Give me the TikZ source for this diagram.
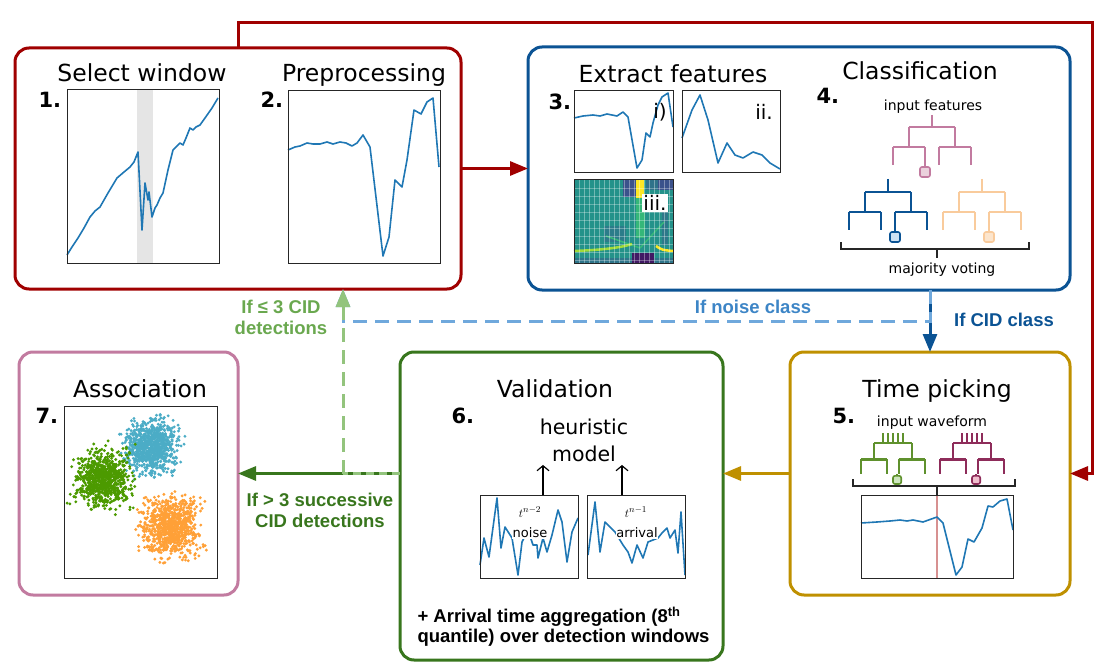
\documentclass[tikz,border=0pt]{standalone}
\usepackage{fontspec}
\setmainfont{DejaVu Sans}
\newfontfamily\lab{Liberation Sans}
\usepackage{xcolor}
\usepackage{tikz}
\usetikzlibrary{arrows.meta,positioning,calc}

\definecolor{cRed}{RGB}{160,0,0}
\definecolor{cBlue}{RGB}{11,83,148}
\definecolor{cLBlue}{RGB}{111,168,220}
\definecolor{cNoise}{RGB}{61,133,198}
\definecolor{cGreen}{RGB}{56,118,29}
\definecolor{cLGreen}{RGB}{147,196,125}
\definecolor{cFewT}{RGB}{106,168,79}
\definecolor{cGold}{RGB}{191,144,0}
\definecolor{cPink}{RGB}{194,123,160}
\definecolor{cPinkL}{RGB}{234,209,220}
\definecolor{cTreeB}{RGB}{11,83,148}
\definecolor{cTreeBL}{RGB}{207,226,243}
\definecolor{cTreeO}{RGB}{249,203,156}
\definecolor{cTreeOL}{RGB}{252,229,205}
\definecolor{cTPg}{RGB}{95,145,45}
\definecolor{cTPgL}{RGB}{205,230,190}
\definecolor{cTPm}{RGB}{142,44,90}
\definecolor{cTPmL}{RGB}{240,190,205}
\definecolor{cSig}{RGB}{31,119,180}
\definecolor{cPickLine}{RGB}{215,145,145}
\definecolor{cClG}{RGB}{76,154,0}
\definecolor{cClB}{RGB}{75,172,198}
\definecolor{cClO}{RGB}{255,160,55}
\definecolor{cV0}{RGB}{68,1,84}
\definecolor{cV1}{RGB}{59,82,139}
\definecolor{cV2}{RGB}{36,146,138}
\definecolor{cV3}{RGB}{53,183,121}
\definecolor{cV4}{RGB}{160,218,57}
\definecolor{cV5}{RGB}{253,231,37}

\tikzset{
  pics/dtree/.style n args={4}{code={
    \draw[#1, line width=#4] (-23,0) -- (23,0)
      (-23,0) -- (-23,20) (23,0) -- (23,20)
      (-39,20) -- (-7,20) (7,20) -- (39,20)
      (-39,20) -- (-39,38) (-7,20) -- (-7,38) (7,20) -- (7,38) (39,20) -- (39,38)
      (#3,38) -- (#3,40);
    \draw[#1, fill=#2, line width=1.6pt, rounded corners=2pt] (#3-5,40) rectangle (#3+5,50);
  }},
}

\begin{document}
\begin{tikzpicture}[x=1pt, y=-1pt,
    stage/.style={draw, line width=3pt, rounded corners=14pt, inner sep=0pt, outer sep=0pt},
    ttl/.style={anchor=base, font=\fontsize{23.5}{28}\selectfont},
    num/.style={anchor=base west, font=\bfseries\fontsize{21}{24}\selectfont},
    small/.style={anchor=base, font=\fontsize{14}{17}\selectfont},
    lbl/.style={font=\lab\bfseries\fontsize{18.5}{21}\selectfont, align=center},
    frame/.style={draw=black!85, line width=1pt},
    sig/.style={cSig, line width=1.6pt, line join=round},
    flow/.style={line width=3pt, -{Triangle[length=18pt,width=14pt]}},
    dashflow/.style={line width=3pt, dash pattern=on 14pt off 8pt},
    tip/.style={-{Triangle[length=18pt,width=14pt]}},
    bracket/.style={line width=1.5pt, black!85}]
    \useasboundingbox (0,0) rectangle (1106,666);

    % Stage boxes
    \node[stage, draw=cRed, minimum width=446pt, minimum height=241pt] (sel) at (238,168.5) {};
    \node[stage, draw=cBlue, minimum width=542pt, minimum height=243pt] (feat) at (799,168.5) {};
    \node[stage, draw=cPink, minimum width=219pt, minimum height=243pt] (assoc) at (128.5,473.5) {};
    \node[stage, draw=cGreen, minimum width=323pt, minimum height=308pt] (valid) at (561.5,506) {};
    \node[stage, draw=cGold, minimum width=280pt, minimum height=243pt] (pick) at (930,473.5) {};

    % 1. Select window
    \node[ttl] (tsel) at (142,82) {Select window};
    \node[num] (n1) at (35,108) {1.};
    \fill[black!10] (137,90) rectangle (153,263);
    \draw[sig] plot coordinates {(67,255) (72,247) (78,238) (84,228) (90,217) (95,211)
      (100,207) (108,193) (117,178) (124,172) (130,167) (134,162) (138,152) (142,230)
      (145,183) (148,200) (149,192) (152,217) (155,208) (157,205) (160,198) (163,193)
      (168,170) (173,150) (176,147) (180,143) (183,145) (186,138) (190,128) (193,130)
      (196,127) (200,125) (205,118) (212,108) (218,98)};
    \draw[frame] (67,90) rectangle (219,263);

    % 2. Preprocessing
    \node[ttl] (tpre) at (364,82) {Preprocessing};
    \node[num] (n2) at (257,108) {2.};
    \draw[sig] plot coordinates {(288,150) (295,147) (300,146) (307,143) (313,144)
      (320,144) (327,142) (333,144) (340,142) (346,143) (352,146) (357,143) (363,135)
      (370,147) (383,256) (389,237) (395,180) (402,187) (407,160) (414,110) (421,114)
      (427,102) (433,98) (439,167)};
    \draw[frame] (288,91) rectangle (440,263);

    % 3. Extract features
    \node[ttl] (tfeat) at (673,83) {Extract features};
    \node[num] (n3) at (545,110) {3.};
    \draw[sig] plot coordinates {(574,118) (583,116) (593,115) (600,116) (607,114)
      (617,116) (623,112) (628,117) (637,168) (642,160) (646,133) (650,137) (653,123)
      (658,105) (662,97) (668,93) (673,127)};
    \draw[frame] (574,91) rectangle (673,173);
    \node[font=\fontsize{20}{24}\selectfont] (li) at (660,112) {i)};
    \draw[sig] plot coordinates {(682,138) (692,110) (700,95) (708,120) (718,163)
      (727,143) (735,155) (743,158) (753,152) (762,155) (770,163) (780,169)};
    \draw[frame] (682,91) rectangle (780,173);
    \node[font=\fontsize{20}{24}\selectfont] (lii) at (764,112) {ii.};

    % spectrogram
    \fill[cV2] (574,180) rectangle (673,263);
    \fill[cV1] (623,180) rectangle (636,197);
    \fill[cV1] (658,180) rectangle (673,190);
    \fill[cV1!50!cV2] (646,180) rectangle (658,190);
    \fill[cV5] (636,180) rectangle (644,198);
    \fill[cV3] (636,198) rectangle (645,238);
    \fill[cV1!40!cV2] (662,212) rectangle (668,245);
    \fill[cV1!35!cV2] (604,226) rectangle (626,242);
    \fill[cV1!45!cV2] (574,258) rectangle (673,263);
    \fill[cV0!70!cV1] (632,253) rectangle (654,263);
    \draw[cV3, line width=1.5pt] (640,248) -- (606,236) (640,248) -- (664,222);
    \draw[cV4, line width=2.5pt] (574,251) .. controls (600,250) and (620,248) .. (632,244);
    \draw[cV5, line width=2.5pt] (656,246) .. controls (662,250) .. (673,251);
    \foreach \gx in {579,584,...,669}
      \draw[white, opacity=.35, line width=.6pt] (\gx,180) -- (\gx,263);
    \foreach \gy in {188,196,...,260}
      \draw[white, opacity=.3, line width=.6pt] (574,\gy) -- (673,\gy);
    \draw[frame] (574,180) rectangle (673,263);
    \node[fill=white, inner sep=1pt, font=\fontsize{20}{24}\selectfont] (liii) at (655,203) {iii.};

    % 4. Classification
    \node[ttl] (tcls) at (920,80) {Classification};
    \node[num] (n4) at (813,104) {4.};
    \node[small] (infeat) at (933,111) {input features};
    \draw[cPink, line width=2.6pt] (932,115) -- (932,127);
    \pic at (932,127) {dtree={cPink}{cPinkL}{-7}{2.6pt}};
    \draw[cTreeB, line width=2.6pt] (888,179) -- (888,192);
    \pic at (888,192) {dtree={cTreeB}{cTreeBL}{7}{2.6pt}};
    \draw[cTreeO, line width=2.6pt] (982,179) -- (982,192);
    \pic at (982,192) {dtree={cTreeO}{cTreeOL}{7}{2.6pt}};
    \draw[bracket] (841,242) -- (841,249) -- (1029,249) -- (1029,242) (937,249) -- (937,258);
    \node[small] (vote) at (942,273) {majority voting};

    % 5. Time picking
    \node[ttl] (tpick) at (937,397) {Time picking};
    \node[num] (n5) at (829,423) {5.};
    \node[small] (inwave) at (932,426) {input waveform};
    \foreach \t in {-10,-5,...,10}{
      \draw[cTPg, line width=1.6pt] (893+\t,433) -- (893+\t,443);
      \draw[cTPm, line width=1.6pt] (972+\t,433) -- (972+\t,443);
    }
    \pic[scale=.82] at (893,443) {dtree={cTPg}{cTPgL}{5}{2.2pt}};
    \pic[scale=.82] at (972,443) {dtree={cTPm}{cTPmL}{5}{2.2pt}};
    \draw[bracket] (853,479) -- (853,486) -- (1015,486) -- (1015,479) (937,486) -- (937,495);
    \draw[cPickLine, line width=1.3pt] (937,495) -- (937,578);
    \draw[sig] plot coordinates {(861,523) (877,522) (890,521) (900,520) (907,521)
      (913,520) (923,522) (937,517) (943,523) (956,575) (962,567) (968,539) (974,542)
      (982,528) (988,506) (993,507) (1000,501) (1007,499) (1013,530)};
    \draw[frame] (861,495) rectangle (1013,578);

    % 6. Validation
    \node[ttl] (tval) at (555,397) {Validation};
    \node[num] (n6) at (448,423) {6.};
    \node[align=center, font=\fontsize{20.5}{27}\selectfont] (heur) at (584,440) {heuristic\\model};
    \draw[sig] plot coordinates {(480,565) (484,538) (489,557) (497,498) (501,548)
      (505,527) (512,538) (518,575) (522,542) (528,530) (533,545) (537,545) (538,558)
      (543,538) (547,552) (552,535) (558,510) (562,522) (567,562) (572,532) (578,518)};
    \draw[frame] (480,495) rectangle (578,578);
    \draw[sig] plot coordinates {(588,555) (595,502) (600,552) (605,522) (615,532)
      (623,545) (628,552) (632,563) (637,545) (643,558) (648,542) (658,538) (662,533)
      (667,528) (670,538) (675,530) (678,553) (681,512) (685,575)};
    \draw[frame] (587,495) rectangle (685,578);
    \node[fill=white, inner sep=.5pt, font=\fontsize{13}{15}\selectfont] (tn2) at (530,512) {$t^{n-2}$};
    \node[fill=white, inner sep=.5pt, font=\fontsize{13}{15}\selectfont] (wnoise) at (530,533) {noise};
    \node[fill=white, inner sep=.5pt, font=\fontsize{13}{15}\selectfont] (tn1) at (636,512) {$t^{n-1}$};
    \node[fill=white, inner sep=.5pt, font=\fontsize{13}{15}\selectfont] (warr) at (637,533) {arrival};
    \coordinate (wa) at (543,495);
    \coordinate (wb) at (622,495);
    \draw[line width=1.2pt, -{Straight Barb[length=5pt,width=12pt]}] (wa) -- (wa |- heur.south);
    \draw[line width=1.2pt, -{Straight Barb[length=5pt,width=12pt]}] (wb) -- (wb |- heur.south);
    \node[anchor=west, align=left, font=\lab\bfseries\fontsize{18.5}{20}\selectfont] (aggr) at (414,627)
      {+ Arrival time aggregation (8\textsuperscript{th}\\quantile) over detection windows};

    % 7. Association
    \node[ttl] (tass) at (140,397) {Association};
    \node[num] (n7) at (32,423) {7.};
    \begin{scope}
      \clip (64,406) rectangle (217,578);
      \pgfmathsetseed{12}
      \foreach \k in {1,...,900}{
        \pgfmathsetmacro\dx{12.5*(rand+rand+rand)}
        \pgfmathsetmacro\dy{12.5*(rand+rand+rand)}
        \fill[cClB] (150+\dx,447+\dy) circle (1.6pt);
      }
      \foreach \k in {1,...,900}{
        \pgfmathsetmacro\dx{13*(rand+rand+rand)}
        \pgfmathsetmacro\dy{13*(rand+rand+rand)}
        \fill[cClG] (103+\dx,478+\dy) circle (1.6pt);
      }
      \foreach \k in {1,...,900}{
        \pgfmathsetmacro\dx{13*(rand+rand+rand)}
        \pgfmathsetmacro\dy{13.5*(rand+rand+rand)}
        \fill[cClO] (171+\dx,527+\dy) circle (1.6pt);
      }
    \end{scope}
    \draw[frame] (64,406) rectangle (217,578);

    % Connectors
    \draw[flow, cRed] (sel.east) -- (feat.west);
    \draw[flow, cRed] (sel.north) -- ++(0,-25) -| ([xshift=22pt]pick.east) -- (pick.east);
    \draw[flow, cGold] (pick.west) -- (pick.west -| valid.east);
    \coordinate (split) at (343,473.5);
    \draw[flow, cGreen] (valid.west |- assoc.east) -- (assoc.east);
    \draw[cLGreen, line width=3pt, dash pattern=on 8pt off 5pt] (valid.west |- assoc.east) -- (split);
    \draw[flow, cBlue] (pick.north |- feat.south) -- (pick.north);
    \draw[dashflow, cLBlue, tip] (pick.north |- feat.south) -- ++(0,31) -| (split |- sel.south);
    \draw[dashflow, cLGreen, tip] (split) -- (split |- sel.south);

    % Branch labels
    \node[lbl, text=cNoise] (lnoise) at (753,307) {If noise class};
    \node[lbl, text=cBlue] (lcid) at (1004,320) {If CID class};
    \node[lbl, text=cFewT] (lfew) at (281,317) {If ≤ 3 CID\\detections};
    \node[lbl, text=cGreen] (lmany) at (320,510) {If > 3 successive\\CID detections};
\end{tikzpicture}
\end{document}
